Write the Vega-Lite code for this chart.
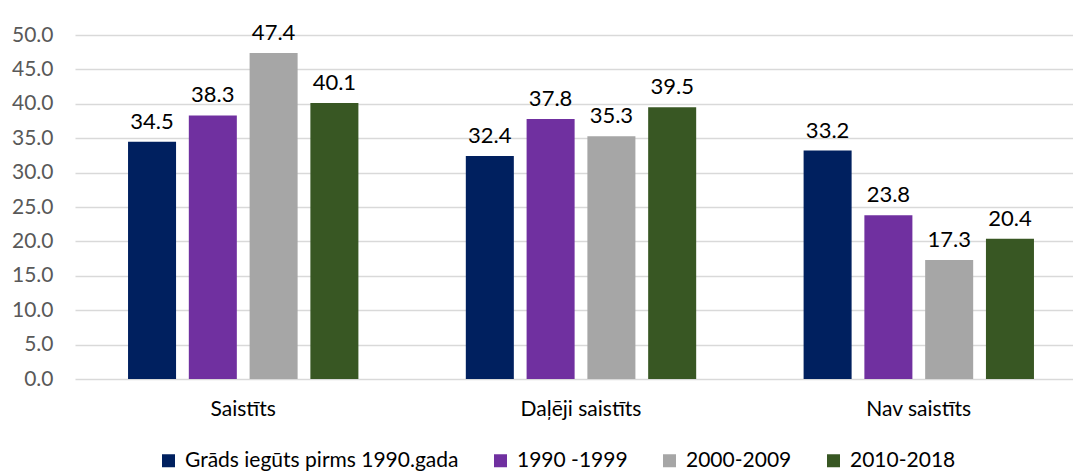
{
  "$schema": "https://vega.github.io/schema/vega-lite/v6.json",
  "width": 998,
  "height": 344,
  "autosize": {"type": "none"},
  "padding": {"left": 75, "top": 35, "right": 0, "bottom": 93},
  "config": {
    "font": "Lato",
    "view": {"stroke": null},
    "axis": {"labelFont": "Lato", "titleFont": "Lato"},
    "legend": {"labelFont": "Lato"}
  },
  "data": {
    "values": [
      {"kat": "Saistīts", "grupa": "Grāds iegūts pirms 1990.gada", "v": 34.5},
      {"kat": "Saistīts", "grupa": "1990 -1999", "v": 38.3},
      {"kat": "Saistīts", "grupa": "2000-2009", "v": 47.4},
      {"kat": "Saistīts", "grupa": "2010-2018", "v": 40.1},
      {"kat": "Daļēji saistīts", "grupa": "Grāds iegūts pirms 1990.gada", "v": 32.4},
      {"kat": "Daļēji saistīts", "grupa": "1990 -1999", "v": 37.8},
      {"kat": "Daļēji saistīts", "grupa": "2000-2009", "v": 35.3},
      {"kat": "Daļēji saistīts", "grupa": "2010-2018", "v": 39.5},
      {"kat": "Nav saistīts", "grupa": "Grāds iegūts pirms 1990.gada", "v": 33.2},
      {"kat": "Nav saistīts", "grupa": "1990 -1999", "v": 23.8},
      {"kat": "Nav saistīts", "grupa": "2000-2009", "v": 17.3},
      {"kat": "Nav saistīts", "grupa": "2010-2018", "v": 20.4}
    ]
  },
  "encoding": {
    "x": {
      "field": "kat", "type": "nominal",
      "sort": ["Saistīts", "Daļēji saistīts", "Nav saistīts"],
      "scale": {"paddingInner": 0.318, "paddingOuter": 0.157, "range": [0, 1012]},
      "axis": {"title": null, "labelAngle": 0, "domain": false, "ticks": false, "labelFontSize": 21, "labelColor": "#000000", "labelPadding": 19}
    },
    "xOffset": {
      "field": "grupa", "type": "nominal",
      "sort": ["Grāds iegūts pirms 1990.gada", "1990 -1999", "2000-2009", "2010-2018"],
      "scale": {"paddingInner": 0.21, "paddingOuter": 0}
    },
    "y": {
      "field": "v", "type": "quantitative",
      "scale": {"domain": [0, 50], "nice": false},
      "axis": {"title": null, "values": [0,5,10,15,20,25,30,35,40,45,50], "format": ".1f", "domain": false, "ticks": false, "labelFontSize": 21, "labelColor": "#595959", "labelPadding": 22, "gridColor": "#d9d9d9", "gridWidth": 1.3}
    }
  },
  "layer": [
    {
      "mark": {"type": "bar"},
      "encoding": {
        "color": {
          "field": "grupa", "type": "nominal",
          "sort": ["Grāds iegūts pirms 1990.gada", "1990 -1999", "2000-2009", "2010-2018"],
          "scale": {"domain": ["Grāds iegūts pirms 1990.gada", "1990 -1999", "2000-2009", "2010-2018"], "range": ["#00205f", "#7030a0", "#a6a6a6", "#385723"]},
          "legend": {"title": null, "orient": "none", "direction": "horizontal", "legendX": 83, "legendY": 415, "symbolType": "square", "symbolSize": 169, "symbolStrokeWidth": 0, "labelFontSize": 21, "labelColor": "#000000", "columnPadding": 31, "labelOffset": 6, "labelLimit": 0}
        }
      }
    },
    {
      "mark": {"type": "text", "baseline": "bottom", "dy": -8, "fontSize": 22, "color": "#000000"},
      "encoding": {
        "text": {"field": "v", "type": "quantitative", "format": ".1f"}
      }
    }
  ]
}
